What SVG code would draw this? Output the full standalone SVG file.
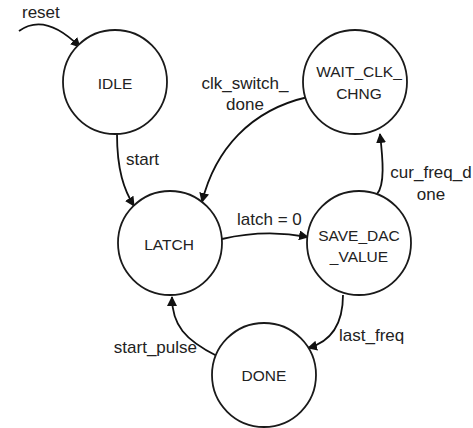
<svg xmlns="http://www.w3.org/2000/svg" width="473" height="428" viewBox="0 0 473 428">
<defs>
<marker id="arr" viewBox="0 0 10 10" refX="9" refY="5" markerWidth="10" markerHeight="10" markerUnits="userSpaceOnUse" orient="auto">
<path d="M0,0 L10,5 L0,10 z" fill="#111"/>
</marker>
<style>
.node circle{fill:#fff;stroke:#1a1a1a;stroke-width:1.8}
.node text{font-family:"Liberation Sans",Arial,sans-serif;font-size:15.5px;fill:#222;text-anchor:middle}
.edge{fill:none;stroke:#111;stroke-width:1.8;marker-end:url(#arr)}
.lbl{font-family:"Liberation Sans",Arial,sans-serif;font-size:17px;fill:#222}
</style>
</defs>
<rect width="473" height="428" fill="#fff"/>
<g id="connectors">
<path class="edge" d="M19,31 Q45,12 80,47"/>
<path class="edge" d="M117,134 C117,170 124,190 134,206"/>
<path class="edge" d="M308,97 C250,110 215,150 202,202"/>
<path class="edge" d="M222,239 Q265,229 308,237"/>
<path class="edge" d="M377,194 C385,185 383,160 380,134"/>
<path class="edge" d="M343,295 C343,325 330,342 308,348"/>
<path class="edge" d="M217,356 C185,340 172,325 172,297"/>
<text class="lbl" x="22" y="18">reset</text>
<text class="lbl" x="126" y="165">start</text>
<text class="lbl" x="237" y="225">latch = 0</text>
<text class="lbl" x="245" y="89" text-anchor="middle">clk_switch_</text>
<text class="lbl" x="245" y="110" text-anchor="middle">done</text>
<text class="lbl" x="431" y="178" text-anchor="middle">cur_freq_d</text>
<text class="lbl" x="431" y="200" text-anchor="middle">one</text>
<text class="lbl" x="339" y="341">last_freq</text>
<text class="lbl" x="197" y="353" text-anchor="end">start_pulse</text>
</g>
<g id="IDLE" class="node"><circle cx="115" cy="82" r="52"/><text x="115" y="89">IDLE</text></g>
<g id="LATCH" class="node"><circle cx="170" cy="243" r="52"/><text x="169" y="250">LATCH</text></g>
<g id="WAIT_CLK_CHNG" class="node"><circle cx="355" cy="82" r="52"/><text x="359" y="77">WAIT_CLK_</text><text x="359" y="99">CHNG</text></g>
<g id="SAVE_DAC_VALUE" class="node"><circle cx="359" cy="243" r="52"/><text x="359" y="241">SAVE_DAC</text><text x="359" y="262">_VALUE</text></g>
<g id="DONE" class="node"><circle cx="264" cy="375" r="52"/><text x="264" y="381">DONE</text></g>
</svg>
